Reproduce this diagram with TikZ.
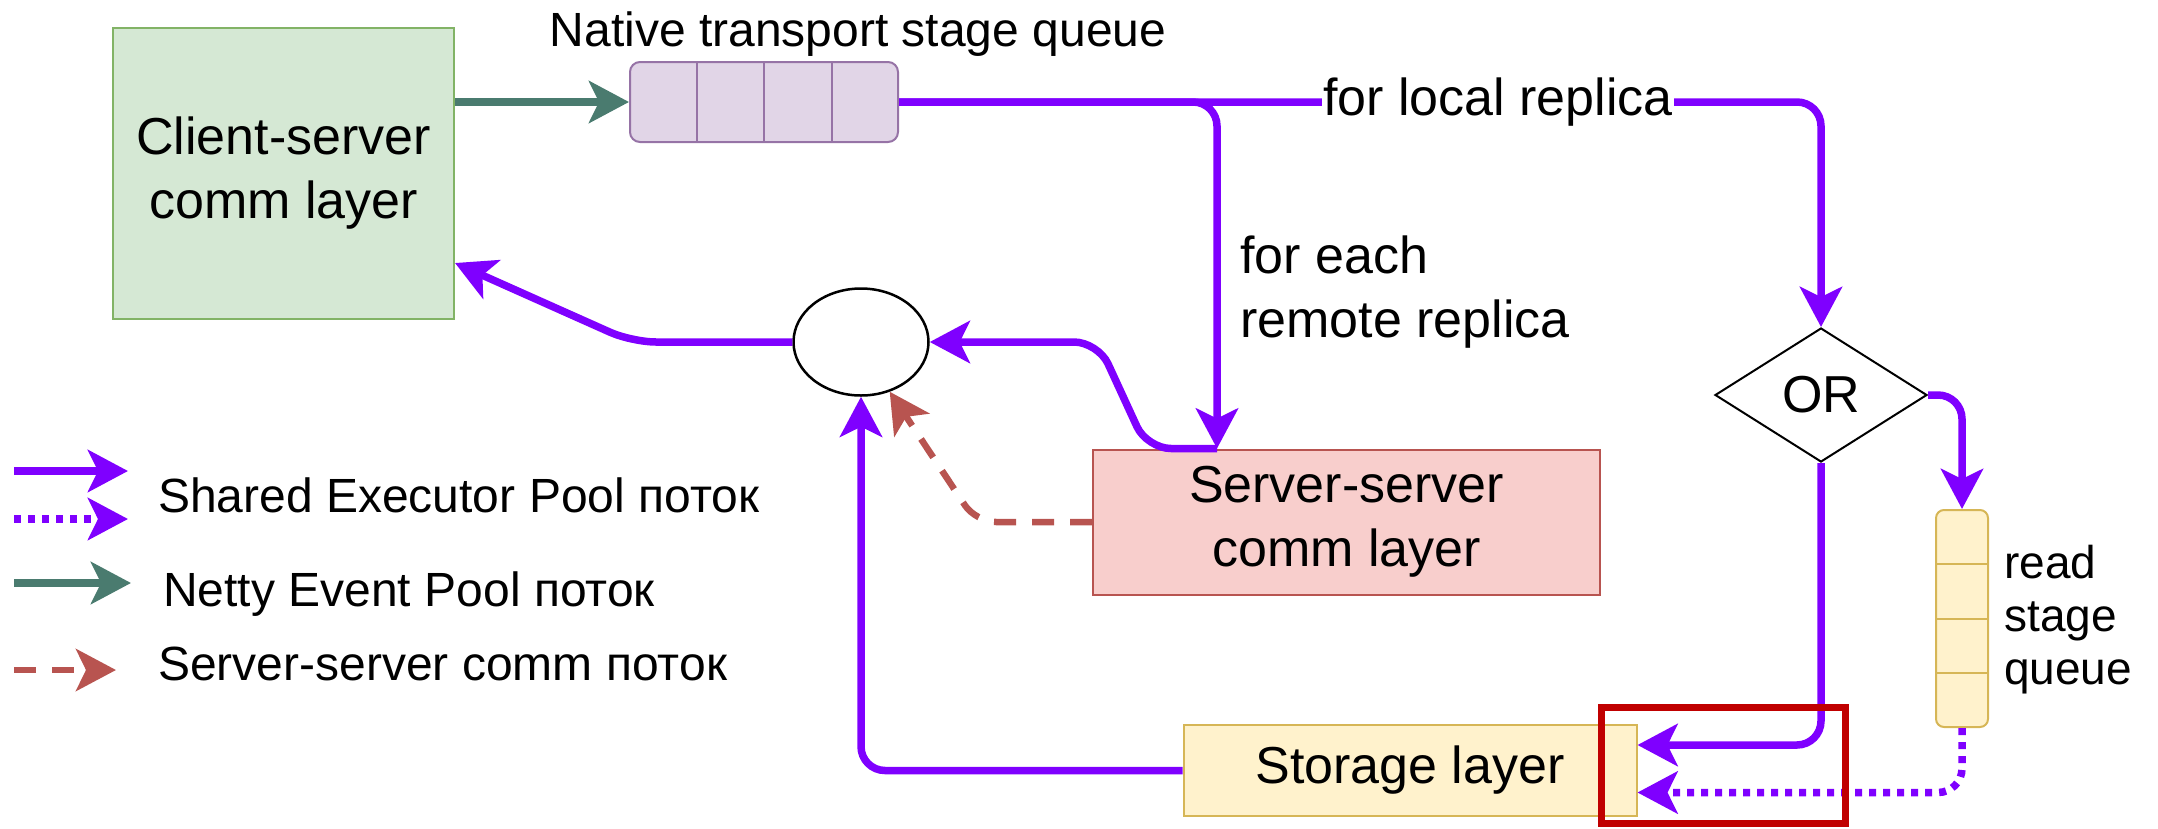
\documentclass[tikz,border=0pt]{standalone}
\usepackage{fontspec}
\setmainfont{Liberation Sans}
\usetikzlibrary{arrows.meta,shapes.geometric,calc}

\definecolor{flow}{HTML}{7F00FF}
\definecolor{netty}{HTML}{4A7B6F}
\definecolor{ssflow}{HTML}{B85450}
\definecolor{csfill}{HTML}{D5E8D4}
\definecolor{csline}{HTML}{82B366}
\definecolor{qfill}{HTML}{E1D5E7}
\definecolor{qline}{HTML}{9673A6}
\definecolor{ssfill}{HTML}{F8CECC}
\definecolor{ssline}{HTML}{B85450}
\definecolor{stfill}{HTML}{FFF2CC}
\definecolor{stline}{HTML}{D6B656}
\definecolor{hlred}{HTML}{C00000}

\newcommand\txtbig{\fontsize{52}{64}\selectfont}
\newcommand\txtmid{\fontsize{48}{56}\selectfont}
\newcommand\txtread{\fontsize{46}{53}\selectfont}
\newcommand\txtlegend{\fontsize{48}{56}\selectfont}

\begin{document}
\begin{tikzpicture}[x=1pt,y=-1pt,
  >={Stealth[length=40pt,width=42pt,inset=10pt]},
  block/.style={line width=2pt, align=center, inner sep=0pt},
  flowline/.style={draw=flow, line width=7.5pt, rounded corners=24pt, ->},
  flowdots/.style={flowline, dash pattern=on 7pt off 7pt},
  nettyline/.style={draw=netty, line width=8pt, ->},
  ssline/.style={draw=ssflow, line width=6.5pt, dash pattern=on 22pt off 16pt, rounded corners=20pt, ->},
  label/.style={inner sep=0pt}]

\useasboundingbox (0,0) rectangle (2158,828);

% ---- blocks ----
\node[block, fill=csfill, draw=csline, minimum width=341pt, minimum height=291pt, font=\txtbig]
  (cs) at (283.5,173.5) {Client-server\\comm layer};

\node[draw=qline, fill=qfill, line width=2pt, rounded corners=10pt,
      minimum width=268pt, minimum height=80pt, inner sep=0pt] (nq) at (764,102) {};
\foreach \k in {1,2,3}
  \draw[qline, line width=2pt] ($(nq.north west)!\k/4!(nq.north east)$) -- ($(nq.south west)!\k/4!(nq.south east)$);
\node[label, font=\txtmid, anchor=base] (nqlabel) at (858,46) {Native transport stage queue};

\node[ellipse, draw=black, fill=white, line width=2.5pt, minimum width=135pt, minimum height=107pt, inner sep=0pt]
  (join) at (861,342) {};

\node[block, fill=ssfill, draw=ssline, minimum width=507pt, minimum height=145pt, font=\txtbig]
  (ss) at (1346.5,522) {Server-server\\comm layer};

\node[block, fill=stfill, draw=stline, minimum width=453pt, minimum height=91pt, font=\txtbig]
  (st) at (1410,770.5) {Storage layer};

\node[diamond, draw=black, fill=white, line width=2pt, minimum width=212pt, minimum height=134pt,
      inner sep=0pt, font=\txtbig] (or) at (1821,395) {OR};

\node[draw=stline, fill=stfill, line width=2pt, rounded corners=8pt,
      minimum width=52pt, minimum height=217pt, inner sep=0pt] (rq) at (1962,618.5) {};
\foreach \k in {1,2,3}
  \draw[stline, line width=2pt] ($(rq.north west)!\k/4!(rq.south west)$) -- ($(rq.north east)!\k/4!(rq.south east)$);
\node[label, font=\txtread, align=left, anchor=west] (rqlabel) at (2004,620) {read\\stage\\queue};

% ---- connectors ----
\draw[nettyline] (cs.east |- nq.west) -- (nq.west);

\coordinate (sstop) at ([xshift=125pt]ss.north west);
\draw[flowline] (nq.east) -- (or.north |- nq.east) -- (or.north);
\draw[flowline] (nq.east) -- (sstop |- nq.east) -- (sstop);
\node[fill=white, inner sep=1pt, font=\txtbig] (local) at (1498,102) {for local replica};
\node[label, font=\txtbig, align=left, anchor=west] (remote) at (1240,292) {for each\\remote replica};

\draw[flowline] (sstop) -- ++(-70,0) -- (1098,342) -- (join.east);
\draw[flowline] (join.west) -- (632,342) -- ([yshift=57pt]cs.south east);
\draw[flowline] (st.west) -- (join.south |- st.west) -- (join.south);
\draw[ssline] (ss.west) -- (976,522) -- (join.-60);

\coordinate (stin1) at ([yshift=25.5pt]st.east);
\coordinate (stin2) at ([yshift=-22pt]st.east);
\draw[flowline] (or.east) -- (rq.north |- or.east) -- (rq.north);
\draw[flowline] (or.south) -- (or.south |- stin1) -- (stin1);
\draw[flowdots] (rq.south) -- (rq.south |- stin2) -- (stin2);

% ---- highlight frame ----
\node[draw=hlred, line width=7pt, minimum width=244pt, minimum height=116pt, inner sep=0pt]
  (focus) at (1723.5,765.5) {};

% ---- legend ----
\coordinate (la1) at (14,471);  \coordinate (lb1) at (128,471);
\coordinate (la2) at (14,519);  \coordinate (lb2) at (128,519);
\coordinate (la3) at (14,583);  \coordinate (lb3) at (131,583);
\coordinate (la4) at (14,670);  \coordinate (lb4) at (116,670);
\draw[flowline] (la1) -- (lb1);
\draw[flowdots] (la2) -- (lb2);
\draw[nettyline] (la3) -- (lb3);
\draw[ssline] (la4) -- (lb4);
\node[label, font=\txtlegend, anchor=base west] (leg1) at (158,512) {Shared Executor Pool поток};
\node[label, font=\txtlegend, anchor=base west] (leg2) at (163,606) {Netty Event Pool поток};
\node[label, font=\txtlegend, anchor=base west] (leg3) at (158,680) {Server-server comm поток};
\end{tikzpicture}
\end{document}
